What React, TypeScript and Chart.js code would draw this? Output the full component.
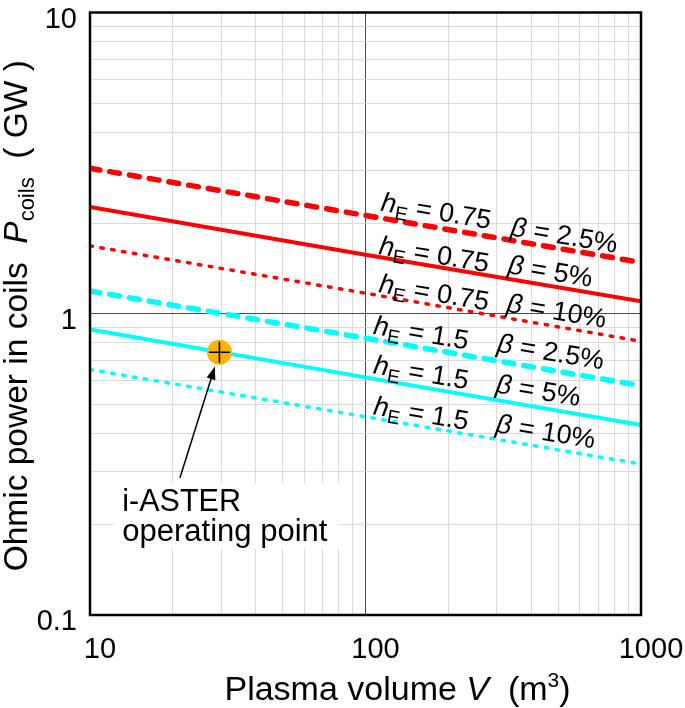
import React, { useEffect, useRef } from "react";
import { Chart, registerables } from "chart.js";

Chart.register(...registerables);

// ---- data ----
const volumes = [10, 100, 1000];
const redDashed = [3.04, 2.12, 1.48]; // hE = 0.75, beta = 2.5%
const redSolid = [2.26, 1.57, 1.1]; // hE = 0.75, beta = 5%
const redDotted = [1.68, 1.17, 0.81]; // hE = 0.75, beta = 10%
const cyanDashed = [1.19, 0.83, 0.577]; // hE = 1.5, beta = 2.5%
const cyanSolid = [0.887, 0.615, 0.427]; // hE = 1.5, beta = 5%
const cyanDotted = [0.653, 0.455, 0.317]; // hE = 1.5, beta = 10%

const operatingV = [29.5];
const operatingP = [0.745];

const xTickLabels = [10, 100, 1000];
const yTickLabels = [0.1, 1, 10];
const gridMultipliers = [1, 2, 3, 4, 5, 6, 7, 8, 9];
const xDecades = [10, 100];
const yDecades = [0.1, 1];

const hValues = ["0.75", "0.75", "0.75", "1.5", "1.5", "1.5"];
const betaValues = ["2.5%", "5%", "10%", "2.5%", "5%", "10%"];
const hLabelV = [113, 111, 111, 106, 106, 106];
const hLabelP = [2.2, 1.58, 1.18, 0.859, 0.634, 0.464];
const betaLabelV = [334, 326, 323, 298, 295, 295];
const betaLabelP = [1.823, 1.366, 1.018, 0.749, 0.549, 0.405];

const noteLines = ["i-ASTER", "operating point"];
const noteV = [13.1];
const noteP = [0.221];
const arrowTail = [21.2, 0.285];
const arrowTip = [28.4, 0.668];

const FONT = "'Liberation Sans', Arial, sans-serif";
const RED = "#ff0000";
const CYAN = "#00ffff";
const ORANGE = "#ffb300";

type Run = { text: string; size: number; italic?: boolean; dy?: number };

function drawRuns(ctx: CanvasRenderingContext2D, runs: Run[], x: number, y: number) {
  let cx = x;
  for (const r of runs) {
    ctx.font = `${r.italic ? "italic " : ""}${r.size}px ${FONT}`;
    ctx.fillText(r.text, cx, y + (r.dy || 0));
    cx += ctx.measureText(r.text).width;
  }
  return cx - x;
}
function runsWidth(ctx: CanvasRenderingContext2D, runs: Run[]) {
  let w = 0;
  for (const r of runs) {
    ctx.font = `${r.italic ? "italic " : ""}${r.size}px ${FONT}`;
    w += ctx.measureText(r.text).width;
  }
  return w;
}

const isDecade = (v: number) => {
  const l = Math.log10(v);
  return Math.abs(l - Math.round(l)) < 1e-6;
};

const gridTicks = (decades: number[], max: number) => {
  const out: { value: number }[] = [];
  for (const d of decades) for (const m of gridMultipliers) out.push({ value: d * m });
  out.push({ value: max });
  return out;
};

const decorPlugin = {
  id: "decor",
  beforeDatasetsDraw(chart: any) {
    const { ctx } = chart;
    const xs = chart.scales.x;
    const ys = chart.scales.y;
    const nx = xs.getPixelForValue(noteV[0]);
    const ny = ys.getPixelForValue(noteP[0]);
    ctx.save();
    ctx.font = `31px ${FONT}`;
    const w = Math.max(...noteLines.map((t) => ctx.measureText(t).width));
    ctx.fillStyle = "#ffffff";
    ctx.fillRect(nx - 9, ny - 28, w + 22, 66);
    ctx.restore();
  },
  afterDatasetsDraw(chart: any) {
    const { ctx, chartArea: ca } = chart;
    const xs = chart.scales.x;
    const ys = chart.scales.y;
    ctx.save();
    // frame
    ctx.strokeStyle = "#000";
    ctx.lineWidth = 2.5;
    ctx.strokeRect(ca.left, ca.top, ca.right - ca.left, ca.bottom - ca.top);

    // tick labels
    ctx.fillStyle = "#000";
    ctx.font = `29px ${FONT}`;
    ctx.textBaseline = "alphabetic";
    ctx.textAlign = "right";
    for (const v of yTickLabels) {
      ctx.fillText(String(v), ca.left - 13, ys.getPixelForValue(v) + 15);
    }
    ctx.textAlign = "center";
    for (const v of xTickLabels) {
      ctx.fillText(String(v), xs.getPixelForValue(v) + 10, ca.bottom + 43);
    }
    ctx.textAlign = "left";

    // curve labels
    const ang = (9.5 * Math.PI) / 180;
    for (let i = 0; i < hValues.length; i++) {
      const hx = xs.getPixelForValue(hLabelV[i]);
      const hy = ys.getPixelForValue(hLabelP[i]);
      ctx.save();
      ctx.translate(hx, hy);
      ctx.rotate(ang);
      drawRuns(
        ctx,
        [
          { text: "h", size: 27, italic: true },
          { text: "E", size: 19, dy: 6 },
          { text: " = " + hValues[i], size: 27 },
        ],
        0,
        0
      );
      ctx.restore();
      const bx = xs.getPixelForValue(betaLabelV[i]);
      const by = ys.getPixelForValue(betaLabelP[i]);
      ctx.save();
      ctx.translate(bx, by);
      ctx.rotate(ang);
      drawRuns(
        ctx,
        [
          { text: "\u03b2", size: 27, italic: true },
          { text: " = " + betaValues[i], size: 27 },
        ],
        0,
        0
      );
      ctx.restore();
    }

    // note text
    const nx = xs.getPixelForValue(noteV[0]);
    const ny = ys.getPixelForValue(noteP[0]);
    ctx.font = `30.5px ${FONT}`;
    ctx.fillText(noteLines[0], nx, ny);
    ctx.font = `31px ${FONT}`;
    ctx.fillText(noteLines[1], nx, ny + 29.5);

    // arrow
    const tx = xs.getPixelForValue(arrowTail[0]);
    const ty = ys.getPixelForValue(arrowTail[1]);
    const px = xs.getPixelForValue(arrowTip[0]);
    const py = ys.getPixelForValue(arrowTip[1]);
    const a = Math.atan2(py - ty, px - tx);
    const hl = 13;
    const hw = 4.5;
    ctx.strokeStyle = "#000";
    ctx.lineWidth = 1.5;
    ctx.beginPath();
    ctx.moveTo(tx, ty);
    ctx.lineTo(px - Math.cos(a) * hl * 0.8, py - Math.sin(a) * hl * 0.8);
    ctx.stroke();
    ctx.beginPath();
    ctx.moveTo(px, py);
    ctx.lineTo(px - Math.cos(a) * hl - Math.sin(a) * hw, py - Math.sin(a) * hl + Math.cos(a) * hw);
    ctx.lineTo(px - Math.cos(a) * hl + Math.sin(a) * hw, py - Math.sin(a) * hl - Math.cos(a) * hw);
    ctx.closePath();
    ctx.fillStyle = "#000";
    ctx.fill();

    // x title
    ctx.fillStyle = "#000";
    const xRuns: Run[] = [
      { text: "Plasma volume ", size: 34 },
      { text: "V", size: 34, italic: true },
      { text: "  (m", size: 34 },
      { text: "3", size: 21, dy: -13 },
      { text: ")", size: 34 },
    ];
    const xw = runsWidth(ctx, xRuns);
    drawRuns(ctx, xRuns, 397.5 - xw / 2, ca.bottom + 85);

    // y title
    const yRuns: Run[] = [
      { text: "Ohmic power in coils  ", size: 33.5 },
      { text: "P", size: 33.5, italic: true },
      { text: "coils", size: 22, dy: 7 },
      { text: "  ( GW )", size: 33.5 },
    ];
    const yw = runsWidth(ctx, yRuns);
    ctx.save();
    ctx.translate(27, (ca.top + ca.bottom) / 2 + 2 + yw / 2);
    ctx.rotate(-Math.PI / 2);
    drawRuns(ctx, yRuns, 0, 0);
    ctx.restore();

    ctx.restore();
  },
};

const line = (vals: number[], color: string, width: number, dash: number[]) => ({
  data: volumes.map((v, i) => ({ x: v, y: vals[i] })),
  borderColor: color,
  backgroundColor: color,
  borderWidth: width,
  borderDash: dash,
  borderCapStyle: dash.length ? "round" : "butt",
  pointRadius: 0,
  fill: false,
  tension: 0,
});

export default function App() {
  const ref = useRef<HTMLCanvasElement>(null);
  useEffect(() => {
    if (!ref.current) return;
    const gridColor = (c: any) => (c.tick && isDecade(c.tick.value) ? "#4a4a4a" : "#dadada");
    const chart = new Chart(ref.current, {
      type: "line",
      data: {
        datasets: [
          {
            data: operatingV.map((v, i) => ({ x: v, y: operatingP[i] })),
            showLine: false,
            pointStyle: "cross",
            pointRadius: 10.5,
            pointBorderColor: "#000",
            pointBorderWidth: 1.6,
            pointBackgroundColor: "#000",
          } as any,
          {
            data: operatingV.map((v, i) => ({ x: v, y: operatingP[i] })),
            showLine: false,
            pointStyle: "circle",
            pointRadius: 12.5,
            pointBorderWidth: 0,
            pointBackgroundColor: ORANGE,
            pointBorderColor: ORANGE,
          } as any,
          line(redDashed, RED, 5.5, [10, 10]),
          line(redSolid, RED, 4, []),
          line(redDotted, RED, 3.5, [2.5, 8.5]),
          line(cyanDashed, CYAN, 5.5, [10, 10]),
          line(cyanSolid, CYAN, 4, []),
          line(cyanDotted, CYAN, 3.5, [2.5, 8.5]),
        ] as any,
      },
      options: {
        animation: false,
        responsive: false,
        devicePixelRatio: 1,
        layout: { padding: { top: 9, right: 44, left: 0, bottom: 0 } },
        plugins: { legend: { display: false }, tooltip: { enabled: false }, title: { display: false } },
        scales: {
          x: {
            type: "logarithmic",
            min: 10,
            max: 1000,
            ticks: { display: false },
            grid: { color: gridColor, lineWidth: 1, drawTicks: false },
            border: { display: false },
            afterBuildTicks: (s: any) => {
              s.ticks = gridTicks(xDecades, 1000);
            },
            afterFit: (s: any) => {
              s.height = 93;
            },
          },
          y: {
            type: "logarithmic",
            min: 0.1,
            max: 10,
            ticks: { display: false },
            grid: { color: gridColor, lineWidth: 1, drawTicks: false },
            border: { display: false },
            afterBuildTicks: (s: any) => {
              s.ticks = gridTicks(yDecades, 10);
            },
            afterFit: (s: any) => {
              s.width = 90;
            },
          },
        },
      } as any,
      plugins: [decorPlugin],
    });
    return () => chart.destroy();
  }, []);
  return (
    <div style={{ position: "fixed", left: 0, top: 0, width: 685, height: 708, background: "#fff" }}>
      <canvas ref={ref} width={685} height={708} style={{ display: "block" }} />
    </div>
  );
}
